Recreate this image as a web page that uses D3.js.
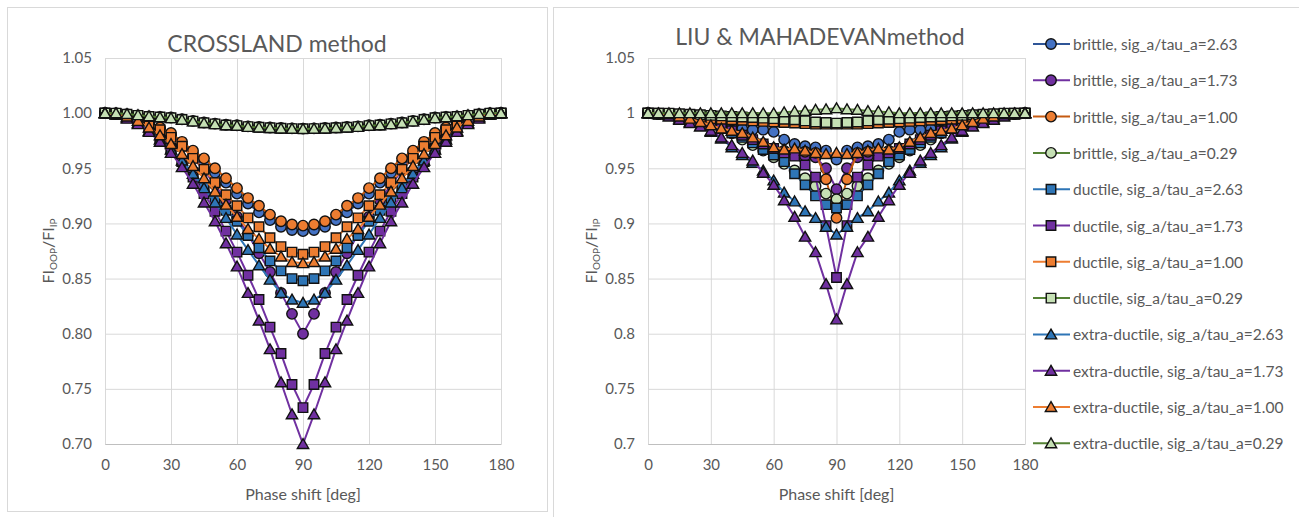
<!DOCTYPE html>
<html>
<head>
<meta charset="utf-8">
<script src="https://cdn.jsdelivr.net/npm/d3@7"></script>
<style>
  body { margin: 0; background: #ffffff; }
  svg { display: block; font-family: Lato, "Open Sans", sans-serif; }
</style>
</head>
<body>
<svg id="chart" width="1299" height="517"></svg>
<script>
// Phase shift between the two loading channels [deg]
const phaseShift = [0,5,10,15,20,25,30,35,40,45,50,55,60,65,70,75,80,85,90,95,100,105,110,115,120,125,130,135,140,145,150,155,160,165,170,175,180];
const xTicks = [0, 30, 60, 90, 120, 150, 180];
const yTicks = [0.70, 0.75, 0.80, 0.85, 0.90, 0.95, 1.00, 1.05];

const seriesNames = [
  "brittle, sig_a/tau_a=2.63",
  "brittle, sig_a/tau_a=1.73",
  "brittle, sig_a/tau_a=1.00",
  "brittle, sig_a/tau_a=0.29",
  "ductile, sig_a/tau_a=2.63",
  "ductile, sig_a/tau_a=1.73",
  "ductile, sig_a/tau_a=1.00",
  "ductile, sig_a/tau_a=0.29",
  "extra-ductile, sig_a/tau_a=2.63",
  "extra-ductile, sig_a/tau_a=1.73",
  "extra-ductile, sig_a/tau_a=1.00",
  "extra-ductile, sig_a/tau_a=0.29"
];

// FI_OOP / FI_IP, Crossland criterion
const crosslandBrittle263 = [1.000,0.9995,0.998,0.995,0.990,0.985,0.979,0.971,0.963,0.955,0.946,0.937,0.927,0.918,0.910,0.903,0.897,0.894,0.893,0.894,0.897,0.903,0.910,0.918,0.927,0.937,0.946,0.955,0.963,0.971,0.979,0.985,0.990,0.995,0.998,0.9995,1.000];
const crosslandBrittle173 = [1.000,0.9995,0.998,0.995,0.991,0.986,0.979,0.970,0.960,0.948,0.935,0.921,0.906,0.890,0.873,0.856,0.837,0.818,0.800,0.818,0.837,0.856,0.873,0.890,0.906,0.921,0.935,0.948,0.960,0.970,0.979,0.986,0.991,0.995,0.998,0.9995,1.000];
const crosslandBrittle100 = [1.000,0.9995,0.998,0.995,0.991,0.987,0.982,0.974,0.966,0.959,0.950,0.941,0.932,0.923,0.916,0.908,0.902,0.899,0.898,0.899,0.902,0.908,0.916,0.923,0.932,0.941,0.950,0.959,0.966,0.974,0.982,0.987,0.991,0.995,0.998,0.9995,1.000];
const crosslandBrittle029 = [1.000,1.000,0.999,0.998,0.997,0.9965,0.996,0.9945,0.993,0.9915,0.9905,0.9895,0.989,0.988,0.9875,0.987,0.9865,0.9862,0.986,0.9862,0.9865,0.987,0.9875,0.988,0.989,0.9895,0.9905,0.9915,0.993,0.9945,0.996,0.9965,0.997,0.998,0.999,1.000,1.000];
const crosslandDuctile263 = [1.000,0.9995,0.998,0.994,0.987,0.978,0.967,0.956,0.946,0.934,0.923,0.912,0.902,0.889,0.878,0.866,0.857,0.850,0.848,0.850,0.857,0.866,0.878,0.889,0.902,0.912,0.923,0.934,0.946,0.956,0.967,0.978,0.987,0.994,0.998,0.9995,1.000];
const crosslandDuctile173 = [1.000,0.999,0.996,0.992,0.986,0.978,0.968,0.956,0.942,0.927,0.911,0.893,0.874,0.853,0.831,0.806,0.782,0.754,0.733,0.754,0.782,0.806,0.831,0.853,0.874,0.893,0.911,0.927,0.942,0.956,0.968,0.978,0.986,0.992,0.996,0.999,1.000];
const crosslandDuctile100 = [1.000,0.9995,0.998,0.995,0.991,0.985,0.978,0.970,0.959,0.949,0.937,0.926,0.916,0.905,0.897,0.887,0.879,0.874,0.872,0.874,0.879,0.887,0.897,0.905,0.916,0.926,0.937,0.949,0.959,0.970,0.978,0.985,0.991,0.995,0.998,0.9995,1.000];
const crosslandDuctile029 = [1.000,1.000,0.999,0.998,0.997,0.9965,0.9958,0.9943,0.9928,0.9913,0.9903,0.9893,0.9887,0.9878,0.9872,0.9868,0.9863,0.986,0.9858,0.986,0.9863,0.9868,0.9872,0.9878,0.9887,0.9893,0.9903,0.9913,0.9928,0.9943,0.9958,0.9965,0.997,0.998,0.999,1.000,1.000];
const crosslandExtra263 = [1.000,0.999,0.996,0.991,0.984,0.976,0.967,0.957,0.945,0.932,0.919,0.905,0.890,0.876,0.862,0.849,0.837,0.831,0.828,0.831,0.837,0.849,0.862,0.876,0.890,0.905,0.919,0.932,0.945,0.957,0.967,0.976,0.984,0.991,0.996,0.999,1.000];
const crosslandExtra173 = [1.000,0.999,0.995,0.990,0.983,0.974,0.964,0.951,0.936,0.919,0.902,0.882,0.861,0.837,0.812,0.786,0.756,0.727,0.700,0.727,0.756,0.786,0.812,0.837,0.861,0.882,0.902,0.919,0.936,0.951,0.964,0.974,0.983,0.990,0.995,0.999,1.000];
const crosslandExtra100 = [1.000,0.999,0.997,0.993,0.987,0.980,0.972,0.963,0.952,0.941,0.929,0.917,0.906,0.895,0.886,0.877,0.870,0.865,0.864,0.865,0.870,0.877,0.886,0.895,0.906,0.917,0.929,0.941,0.952,0.963,0.972,0.980,0.987,0.993,0.997,0.999,1.000];
const crosslandExtra029 = [1.000,1.000,0.9992,0.9982,0.9972,0.9962,0.9955,0.994,0.9925,0.991,0.990,0.989,0.9885,0.9875,0.987,0.9865,0.986,0.9858,0.9857,0.9858,0.986,0.9865,0.987,0.9875,0.9885,0.989,0.990,0.991,0.9925,0.994,0.9955,0.9962,0.9972,0.9982,0.9992,1.000,1.000];

// FI_OOP / FI_IP, Liu & Mahadevan criterion
const liuBrittle263 = [1.000,0.9995,0.999,0.998,0.996,0.994,0.992,0.990,0.988,0.986,0.985,0.985,0.983,0.976,0.972,0.970,0.969,0.966,0.958,0.966,0.969,0.970,0.972,0.976,0.983,0.985,0.985,0.986,0.988,0.990,0.992,0.994,0.996,0.998,0.999,0.9995,1.000];
const liuBrittle173 = [1.000,0.9995,0.999,0.997,0.995,0.993,0.990,0.987,0.984,0.980,0.976,0.972,0.968,0.965,0.962,0.961,0.960,0.950,0.931,0.950,0.960,0.961,0.962,0.965,0.968,0.972,0.976,0.980,0.984,0.987,0.990,0.993,0.995,0.997,0.999,0.9995,1.000];
const liuBrittle100 = [1.000,0.9995,0.999,0.997,0.995,0.992,0.989,0.986,0.982,0.978,0.974,0.970,0.968,0.966,0.965,0.965,0.964,0.940,0.905,0.940,0.964,0.965,0.965,0.966,0.968,0.970,0.974,0.978,0.982,0.986,0.989,0.992,0.995,0.997,0.999,0.9995,1.000];
const liuBrittle029 = [1.000,0.9995,0.999,0.998,0.996,0.994,0.991,0.987,0.982,0.976,0.971,0.966,0.960,0.954,0.948,0.941,0.934,0.927,0.922,0.927,0.934,0.941,0.948,0.954,0.960,0.966,0.971,0.976,0.982,0.987,0.991,0.994,0.996,0.998,0.999,0.9995,1.000];
const liuDuctile263 = [1.000,0.9995,0.999,0.997,0.995,0.993,0.990,0.986,0.982,0.978,0.973,0.967,0.962,0.956,0.945,0.935,0.925,0.917,0.914,0.917,0.925,0.935,0.945,0.956,0.962,0.967,0.973,0.978,0.982,0.986,0.990,0.993,0.995,0.997,0.999,0.9995,1.000];
const liuDuctile173 = [1.000,0.999,0.998,0.996,0.994,0.992,0.990,0.987,0.984,0.980,0.976,0.972,0.968,0.964,0.961,0.953,0.942,0.898,0.851,0.898,0.942,0.953,0.961,0.964,0.968,0.972,0.976,0.980,0.984,0.987,0.990,0.992,0.994,0.996,0.998,0.999,1.000];
const liuDuctile100 = [1.000,1.000,0.999,0.998,0.997,0.996,0.995,0.9945,0.994,0.9935,0.993,0.9925,0.992,0.9915,0.991,0.9905,0.990,0.990,0.990,0.990,0.990,0.9905,0.991,0.9915,0.992,0.9925,0.993,0.9935,0.994,0.9945,0.995,0.996,0.997,0.998,0.999,1.000,1.000];
const liuDuctile029 = [1.000,1.000,1.000,0.9995,0.999,0.9985,0.998,0.9975,0.997,0.9965,0.996,0.9955,0.995,0.9945,0.994,0.993,0.992,0.9915,0.991,0.9915,0.992,0.993,0.994,0.9945,0.995,0.9955,0.996,0.9965,0.997,0.9975,0.998,0.9985,0.999,0.9995,1.000,1.000,1.000];
const liuExtra263 = [1.000,0.9995,0.998,0.995,0.992,0.988,0.983,0.977,0.969,0.962,0.955,0.948,0.939,0.928,0.920,0.911,0.905,0.897,0.890,0.897,0.905,0.911,0.920,0.928,0.939,0.948,0.955,0.962,0.969,0.977,0.983,0.988,0.992,0.995,0.998,0.9995,1.000];
const liuExtra173 = [1.000,0.999,0.997,0.994,0.991,0.988,0.984,0.978,0.971,0.964,0.957,0.946,0.935,0.921,0.906,0.888,0.874,0.845,0.813,0.845,0.874,0.888,0.906,0.921,0.935,0.946,0.957,0.964,0.971,0.978,0.984,0.988,0.991,0.994,0.997,0.999,1.000];
const liuExtra100 = [1.000,0.9995,0.999,0.997,0.995,0.992,0.989,0.986,0.984,0.982,0.978,0.974,0.969,0.967,0.968,0.966,0.964,0.963,0.964,0.963,0.964,0.966,0.968,0.967,0.969,0.974,0.978,0.982,0.984,0.986,0.989,0.992,0.995,0.997,0.999,0.9995,1.000];
const liuExtra029 = [1.000,1.000,1.000,1.000,1.000,1.000,1.000,1.000,1.000,1.000,1.000,1.000,1.000,1.0008,1.0015,1.002,1.003,1.0035,1.0045,1.0035,1.003,1.002,1.0015,1.0008,1.000,1.000,1.000,1.000,1.000,1.000,1.000,1.000,1.000,1.000,1.000,1.000,1.000];

const crosslandSeries = [crosslandBrittle263, crosslandBrittle173, crosslandBrittle100, crosslandBrittle029,
  crosslandDuctile263, crosslandDuctile173, crosslandDuctile100, crosslandDuctile029,
  crosslandExtra263, crosslandExtra173, crosslandExtra100, crosslandExtra029];
const liuSeries = [liuBrittle263, liuBrittle173, liuBrittle100, liuBrittle029,
  liuDuctile263, liuDuctile173, liuDuctile100, liuDuctile029,
  liuExtra263, liuExtra173, liuExtra100, liuExtra029];

// Series styling (line colour, marker fill, marker shape)
const lineColors = ["#2F5597","#7030A0","#C55A11","#548235","#2E75B6","#7030A0","#ED7D31","#548235","#2E75B6","#7030A0","#ED7D31","#548235"];
const fillColors = ["#4472C4","#7030A0","#ED7D31","#C5E0B4","#2E75B6","#7030A0","#ED7D31","#C5E0B4","#2E75B6","#7030A0","#ED7D31","#C5E0B4"];
const shapes = ["circle","circle","circle","circle","square","square","square","square","triangle","triangle","triangle","triangle"];

const TEXT = "#595959";
const GRID = "#d9d9d9";
const symbolFor = {
  circle: d3.symbol().type(d3.symbolCircle).size(86)(),
  square: d3.symbol().type(d3.symbolSquare).size(90)(),
  triangle: d3.symbol().type(d3.symbolTriangle).size(56)()
};

const svg = d3.select("#chart");

function drawMarker(g, shape, fill, cx, cy) {
  const dy = shape === "triangle" ? 1.2 : 0;
  g.append("path")
    .attr("d", symbolFor[shape])
    .attr("transform", `translate(${cx},${cy + dy})`)
    .attr("fill", fill)
    .attr("stroke", "#111")
    .attr("stroke-width", 1.4);
}

function drawPanel(cfg) {
  const g = svg.append("g");

  // chart frame
  g.append("rect")
    .attr("x", cfg.frame[0] + 0.5).attr("y", cfg.frame[1] + 0.5)
    .attr("width", cfg.frame[2]).attr("height", cfg.frame[3])
    .attr("fill", "none").attr("stroke", GRID);

  const x = d3.scaleLinear().domain([0, 180]).range([cfg.left, cfg.right]);
  const y = d3.scaleLinear().domain([0.70, 1.05]).range([cfg.bottom, cfg.top]);

  // gridlines
  g.append("g")
    .attr("transform", `translate(0,${cfg.bottom})`)
    .call(d3.axisBottom(x).tickValues(xTicks).tickSize(-(cfg.bottom - cfg.top)).tickFormat(""))
    .call(s => s.select(".domain").remove())
    .selectAll("line").attr("stroke", GRID);
  g.append("g")
    .attr("transform", `translate(${cfg.left},0)`)
    .call(d3.axisLeft(y).tickValues(yTicks).tickSize(-(cfg.right - cfg.left)).tickFormat(""))
    .call(s => s.select(".domain").remove())
    .selectAll("line").attr("stroke", GRID);

  // axes with labels
  const xa = g.append("g")
    .attr("transform", `translate(0,${cfg.bottom})`)
    .call(d3.axisBottom(x).tickValues(xTicks).tickSize(0).tickPadding(15));
  xa.attr("font-family", null).attr("font-size", null);
  xa.select(".domain").attr("stroke", "#bfbfbf");
  xa.selectAll("text").attr("fill", TEXT).style("font-size", "15px");

  const ya = g.append("g")
    .attr("transform", `translate(${cfg.left},0)`)
    .call(d3.axisLeft(y).tickValues(yTicks).tickSize(0).tickPadding(13).tickFormat(cfg.yFormat));
  ya.attr("font-family", null).attr("font-size", null);
  ya.select(".domain").remove();
  ya.selectAll("text").attr("fill", TEXT).style("font-size", "15px");

  // title
  g.append("text")
    .attr("x", cfg.titleX).attr("y", cfg.titleY)
    .attr("text-anchor", "middle").attr("dominant-baseline", "central")
    .attr("fill", TEXT).style("font-size", "23px")
    .text(cfg.title);

  // x axis title
  g.append("text")
    .attr("x", (cfg.left + cfg.right) / 2).attr("y", cfg.bottom + 49)
    .attr("text-anchor", "middle").attr("dominant-baseline", "central")
    .attr("fill", TEXT).style("font-size", "16px")
    .text("Phase shift [deg]");

  // y axis title
  const yt = g.append("text")
    .attr("transform", `translate(${cfg.left - 58},${(cfg.top + cfg.bottom) / 2}) rotate(-90)`)
    .attr("text-anchor", "middle").attr("dominant-baseline", "central")
    .attr("fill", TEXT).style("font-size", "16px");
  yt.append("tspan").text("FI");
  yt.append("tspan").attr("baseline-shift", "sub").style("font-size", "10px").text("OOP");
  yt.append("tspan").text("/FI");
  yt.append("tspan").attr("baseline-shift", "sub").style("font-size", "10px").text("IP");

  // series: line first, then its markers
  const line = d3.line().x(d => x(d[0])).y(d => y(d[1]));
  cfg.series.forEach((vals, i) => {
    const pts = phaseShift.map((p, j) => [p, vals[j]]);
    const sg = g.append("g");
    sg.append("path").datum(pts)
      .attr("d", line)
      .attr("fill", "none")
      .attr("stroke", lineColors[i])
      .attr("stroke-width", 2);
    pts.forEach(d => drawMarker(sg, shapes[i], fillColors[i], x(d[0]), y(d[1])));
  });
}

drawPanel({
  frame: [7, 7, 540, 504],
  left: 105, right: 501, top: 58, bottom: 444,
  title: "CROSSLAND method", titleX: 277, titleY: 43,
  yFormat: d3.format(".2f"),
  series: crosslandSeries
});

drawPanel({
  frame: [553, 7, 760, 520],
  left: 648, right: 1025, top: 58, bottom: 444,
  title: "LIU & MAHADEVANmethod", titleX: 820, titleY: 36,
  yFormat: d => String(+d.toFixed(2)),
  series: liuSeries
});

// legend
const legend = svg.append("g");
seriesNames.forEach((name, i) => {
  const ly = 44 + i * 36.3;
  legend.append("line")
    .attr("x1", 1033).attr("x2", 1070).attr("y1", ly).attr("y2", ly)
    .attr("stroke", lineColors[i]).attr("stroke-width", 2);
  drawMarker(legend, shapes[i], fillColors[i], 1051, ly);
  legend.append("text")
    .attr("x", 1073).attr("y", ly)
    .attr("dominant-baseline", "central")
    .attr("fill", TEXT).style("font-size", "15.5px")
    .text(name);
});
</script>
</body>
</html>
